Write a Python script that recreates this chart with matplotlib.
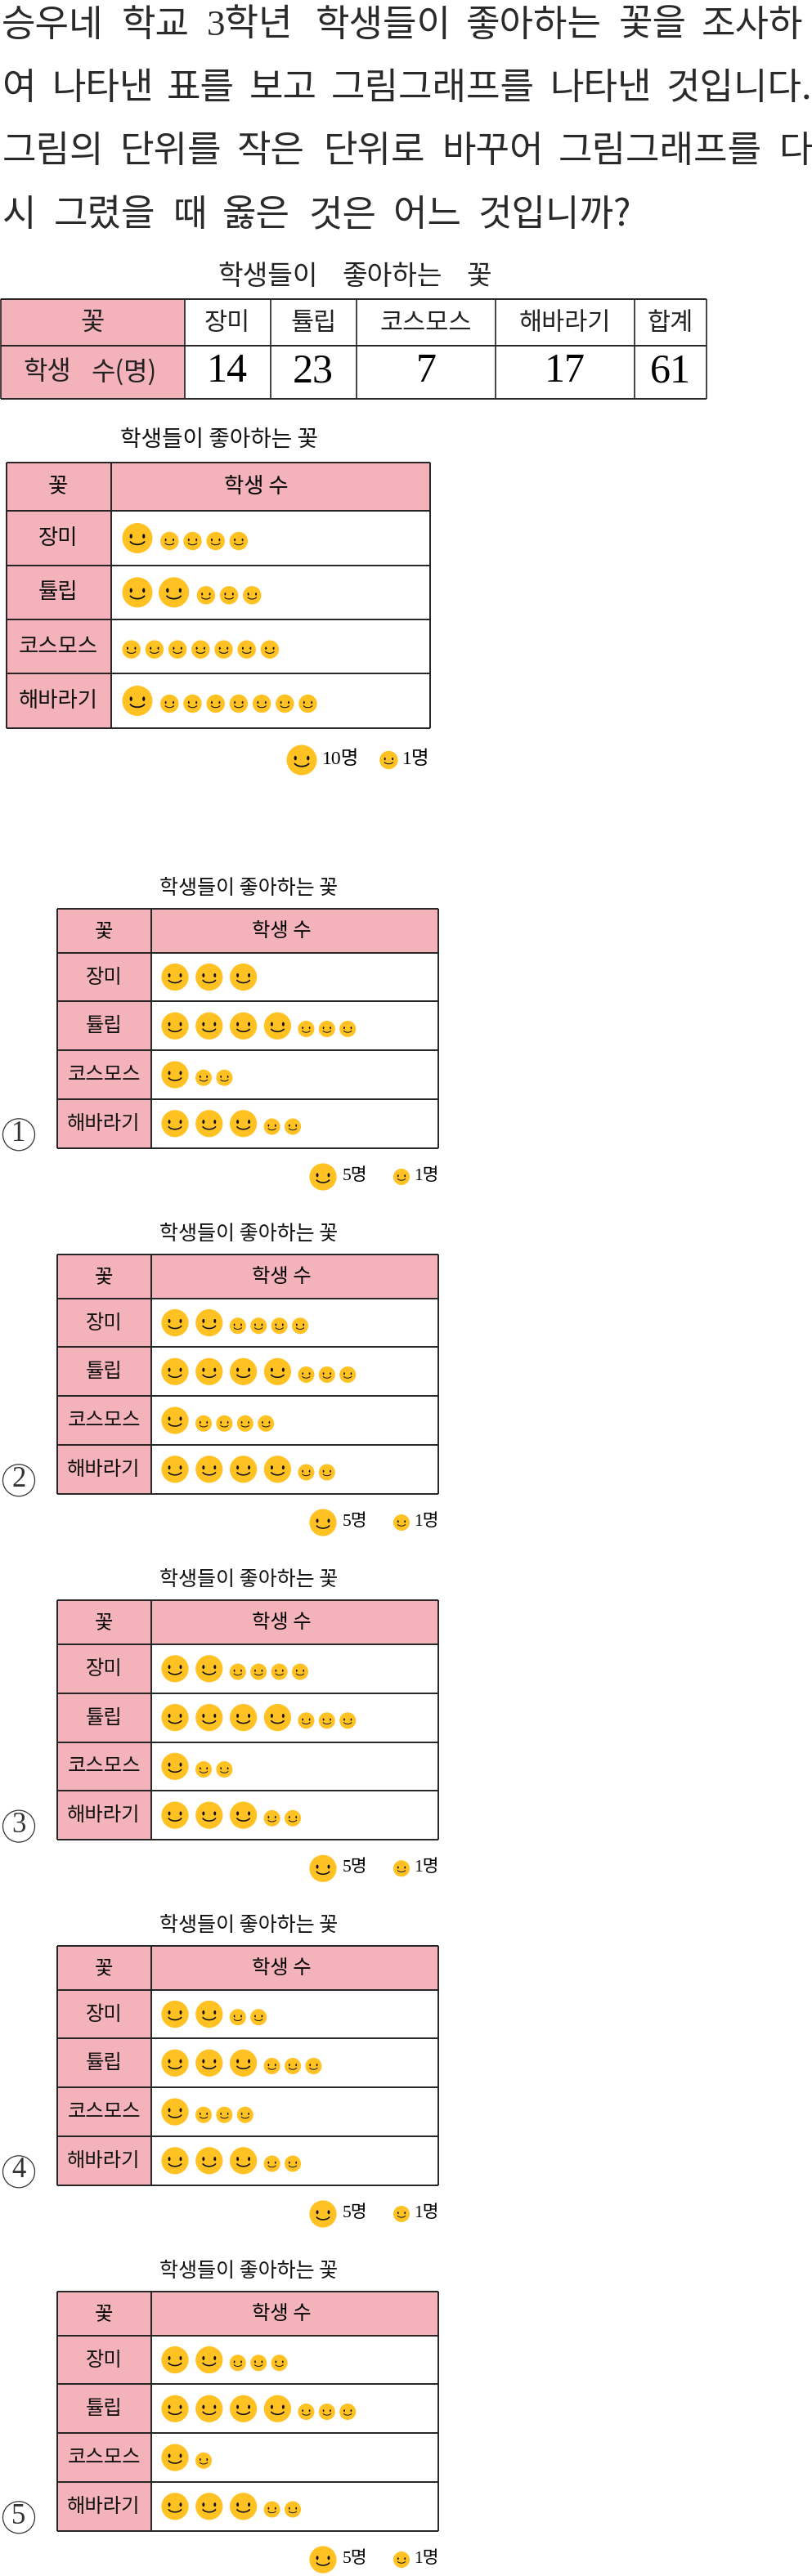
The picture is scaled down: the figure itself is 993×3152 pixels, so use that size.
import matplotlib
matplotlib.use("Agg")
import matplotlib.pyplot as plt
from matplotlib.patches import Ellipse, Rectangle, Arc

plt.rcParams['font.family'] = ['Noto Sans CJK KR', 'DejaVu Sans']
SANS = ['Noto Sans CJK KR', 'DejaVu Sans']
SERIF = ['Liberation Serif', 'Noto Sans CJK KR']

# Question text, one list of words per line
question_lines = [
    ['승우네', '학교', '3학년', '학생들이', '좋아하는', '꽃을', '조사하'],
    ['여', '나타낸', '표를', '보고', '그림그래프를', '나타낸', '것입니다.'],
    ['그림의', '단위를', '작은', '단위로', '바꾸어', '그림그래프를', '다'],
    ['시', '그렸을', '때', '옳은', '것은', '어느', '것입니까?'],
]

# Summary table
flowers = ['장미', '튤립', '코스모스', '해바라기']
students = [14, 23, 7, 17]
total = 61
title_words = ['학생들이', '좋아하는', '꽃']
graph_title = '학생들이 좋아하는 꽃'

# Picture graph at the top (10 / 1)
top_big = [1, 2, 0, 1]
top_small = [4, 3, 7, 7]

# Answer options (5 / 1)
option_names = ['1', '2', '3', '4', '5']
option_big = [
    [3, 4, 1, 3],
    [2, 4, 1, 4],
    [2, 4, 1, 3],
    [2, 3, 1, 3],
    [2, 4, 1, 3],
]
option_small = [
    [0, 3, 2, 2],
    [4, 3, 4, 2],
    [4, 3, 2, 2],
    [2, 3, 3, 2],
    [3, 3, 1, 2],
]

PINK = '#F4B2BA'
YELLOW = '#FFC222'
LINE = '#222222'

fig = plt.figure(figsize=(9.93, 31.52), dpi=100)
ax = fig.add_axes([0, 0, 1, 1])
ax.set_xlim(0, 993)
ax.set_ylim(3152, 0)
ax.axis('off')


def face(cx, cy, r):
    # One smiley, scaled from its radius
    lw = 0.07 * r
    ax.add_patch(Ellipse((cx, cy), 2 * r, 2 * r, fc=YELLOW, ec='none', zorder=3))
    for side in (-1, 1):
        ax.add_patch(Ellipse((cx + side * 0.42 * r, cy - 0.13 * r), 0.18 * r, 0.3 * r,
                             fc='#111111', ec='none', zorder=4))
    ax.add_patch(Arc((cx, cy + 0.08 * r), 1.05 * r, 0.68 * r, theta1=15, theta2=165,
                     ec='#111111', lw=lw, zorder=4))


def grid_table(left, split, right, ys, size, label_x, head_x):
    # Pink head row and first column, then the ruling lines
    ax.add_patch(Rectangle((left, ys[0]), split - left, ys[-1] - ys[0], fc=PINK, ec='none'))
    ax.add_patch(Rectangle((split, ys[0]), right - split, ys[1] - ys[0], fc=PINK, ec='none'))
    ax.hlines(ys, left, right, color=LINE, lw=1.4, zorder=2)
    ax.vlines([left, split, right], ys[0], ys[-1], color=LINE, lw=1.4, zorder=2)
    ax.text(label_x, (ys[0] + ys[1]) / 2, '꽃', fontsize=size, ha='center', va='center')
    ax.text(head_x, (ys[0] + ys[1]) / 2, '학생 수', fontsize=size, ha='center', va='center')
    for i, name in enumerate(flowers):
        ax.text(label_x, (ys[i + 1] + ys[i + 2]) / 2, name, fontsize=size,
                ha='center', va='center', color='#111111')


def draw_faces(big, small, ys, start, r_big, r_small, big_step, gap, small_step, drop):
    for i in range(4):
        cy = (ys[i + 1] + ys[i + 2]) / 2
        for k in range(big[i]):
            face(start + k * big_step, cy, r_big)
        if big[i] > 0:
            first = start + (big[i] - 1) * big_step + gap
        else:
            first = start - r_big + r_small
        for k in range(small[i]):
            face(first + k * small_step, cy + drop, r_small)


# Question, each word placed at its own left edge
word_x = [
    [2, 149, 253, 386, 570, 757, 858],
    [3, 63, 204, 305, 405, 672, 814],
    [3, 147, 290, 396, 540, 683, 953],
    [3, 66, 212, 272, 377, 481, 584],
]
line_y = [31, 108, 185, 263]
for words, xs, y in zip(question_lines, word_x, line_y):
    for word, x in zip(words, xs):
        # Only the digit is in the serif face
        family = SERIF if '3' in word else SANS
        ax.text(x, y, word, fontsize=32.5, ha='left', va='center', color='#2a2a2a',
                family=family)

# Summary table
for word, x in zip(title_words, [266, 418, 570]):
    ax.text(x, 338, word, fontsize=24, ha='left', va='center', color='#222222')

col_x = [1, 225.5, 330.6, 435.7, 606, 776, 864]
row_y = [366, 423.3, 487.7]
ax.add_patch(Rectangle((col_x[0], row_y[0]), col_x[1] - col_x[0], row_y[2] - row_y[0],
                       fc=PINK, ec='none'))
ax.hlines(row_y, col_x[0], col_x[-1], color=LINE, lw=1.4)
ax.vlines(col_x, row_y[0], row_y[2], color=LINE, lw=1.2)
ax.text(113, 395, '꽃', fontsize=23, ha='center', va='center', color='#222222')
ax.text(28, 455, '학생', fontsize=23, ha='left', va='center', color='#222222')
ax.text(111, 455, '수(명)', fontsize=23, ha='left', va='center', color='#222222')
heads = flowers + ['합계']
values = students + [total]
for i, (head, value) in enumerate(zip(heads, values)):
    mid = (col_x[i + 1] + col_x[i + 2]) / 2
    ax.text(mid, 395, head, fontsize=22, ha='center', va='center', color='#222222')
    ax.text(mid, 455, str(value), fontsize=36, ha='center', va='center', family=SERIF)

# Top picture graph
ax.text(268, 538, graph_title, fontsize=20, ha='center', va='center', color='#111111')
top_y = [566, 625.3, 691.7, 758, 824.3, 890.7]
grid_table(8, 135.7, 525.7, top_y, 19, 71, 313)
draw_faces(top_big, top_small, top_y, 168, 18.5, 11.2, 44.6, 39.3, 28.2, 3.5)
face(369, 930, 18.5)
face(475.4, 930, 11.2)
ax.text(393.6, 929, '10명', fontsize=17, ha='left', va='center', family=SERIF)
ax.text(492, 929, '1명', fontsize=17, ha='left', va='center', family=SERIF)

# Answer options, only the top edge differs
option_top = [1112, 1535, 1958.3, 2381, 2804]
for name, big, small, top in zip(option_names, option_big, option_small, option_top):
    ys = [top, top + 53.7, top + 113.4, top + 173.2, top + 232.9, top + 292.7]
    ax.text(304, top - 25, graph_title, fontsize=18, ha='center', va='center', color='#111111')
    grid_table(70, 185, 536, ys, 17.5, 127, 344.6)
    draw_faces(big, small, ys, 214, 16.6, 10, 41.8, 35, 25.4, 3.7)
    ax.add_patch(Ellipse((23, top + 276.3), 39, 39, fc='none', ec='#333333', lw=0.9))
    ax.text(23, top + 275, name, fontsize=25, ha='center', va='center',
            color='#333333', family=SERIF)
    face(395, top + 328, 16.6)
    face(491, top + 328, 10)
    ax.text(419, top + 327, '5명', fontsize=15.5, ha='left', va='center', family=SERIF)
    ax.text(506, top + 327, '1명', fontsize=15.5, ha='left', va='center', family=SERIF)

fig.savefig('out.png', dpi=100, facecolor='white')
